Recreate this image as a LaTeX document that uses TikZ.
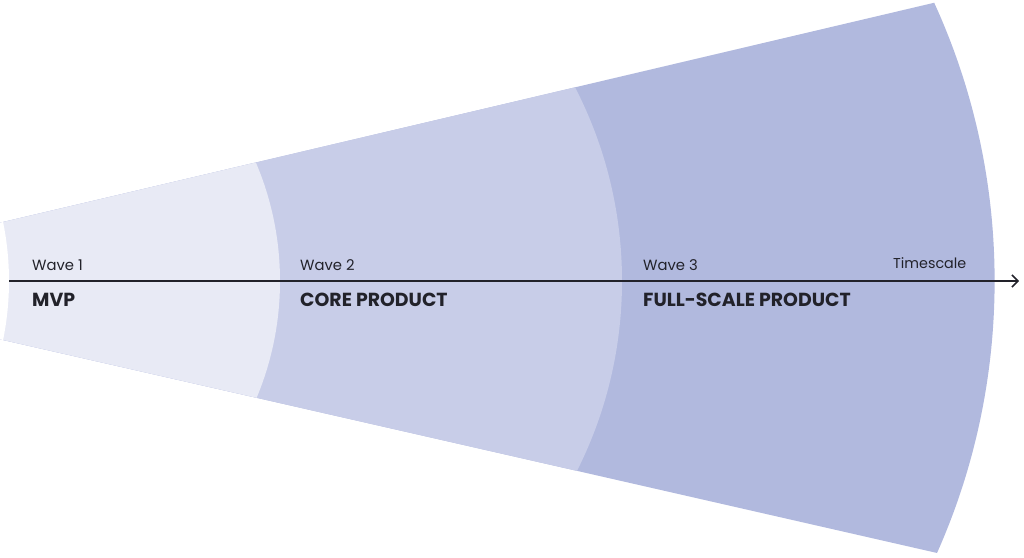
\documentclass[tikz,border=0pt]{standalone}
\usepackage{fontspec}
\setmainfont{Poppins}
\usetikzlibrary{arrows.meta}
\definecolor{waveA}{RGB}{232,234,245}
\definecolor{waveB}{RGB}{200,205,232}
\definecolor{waveC}{RGB}{177,185,222}
\definecolor{ink}{RGB}{34,34,42}
\tikzset{
  wavelabel/.style={inner sep=0pt, anchor=base west, text=ink, font=\fontsize{14.8}{17}\selectfont},
  phaselabel/.style={inner sep=0pt, anchor=base west, text=ink, font=\fontsize{18.9}{22}\selectfont\bfseries},
  axis/.style={draw=ink, line width=1.5pt, -{Straight Barb[length=6pt,width=12pt,line width=1.5pt]}}
}
\begin{document}
\begin{tikzpicture}[x=1pt,y=-1pt]
\useasboundingbox (0,0) rectangle (1024,557);
\begin{scope}
  \clip (-10,225.1) -- (1010,-15.1) -- (1010,569.6) -- (-10,337) -- cycle;
  \fill[waveC] (325.6,281) circle[radius=669pt];
  \fill[waveB] (200,281) circle[radius=422pt];
  \fill[waveA] (-22,281) circle[radius=302pt];
  \fill[white] (-284,281) circle[radius=293pt];
\end{scope}
\coordinate (axstart) at (9,281);
\coordinate (axend) at (1019,281);
\draw[axis] (axstart) -- (axend);
\node[wavelabel] (w1) at (32,270) {Wave 1};
\node[phaselabel] (p1) at (32,306) {MVP};
\node[wavelabel] (w2) at (300,270) {Wave 2};
\node[phaselabel] (p2) at (300,306) {CORE PRODUCT};
\node[wavelabel] (w3) at (643,270) {Wave 3};
\node[phaselabel] (p3) at (643,306) {FULL-SCALE PRODUCT};
\node[wavelabel, font=\fontsize{14.3}{17}\selectfont] (ts) at (893,268) {Timescale};
\end{tikzpicture}
\end{document}
